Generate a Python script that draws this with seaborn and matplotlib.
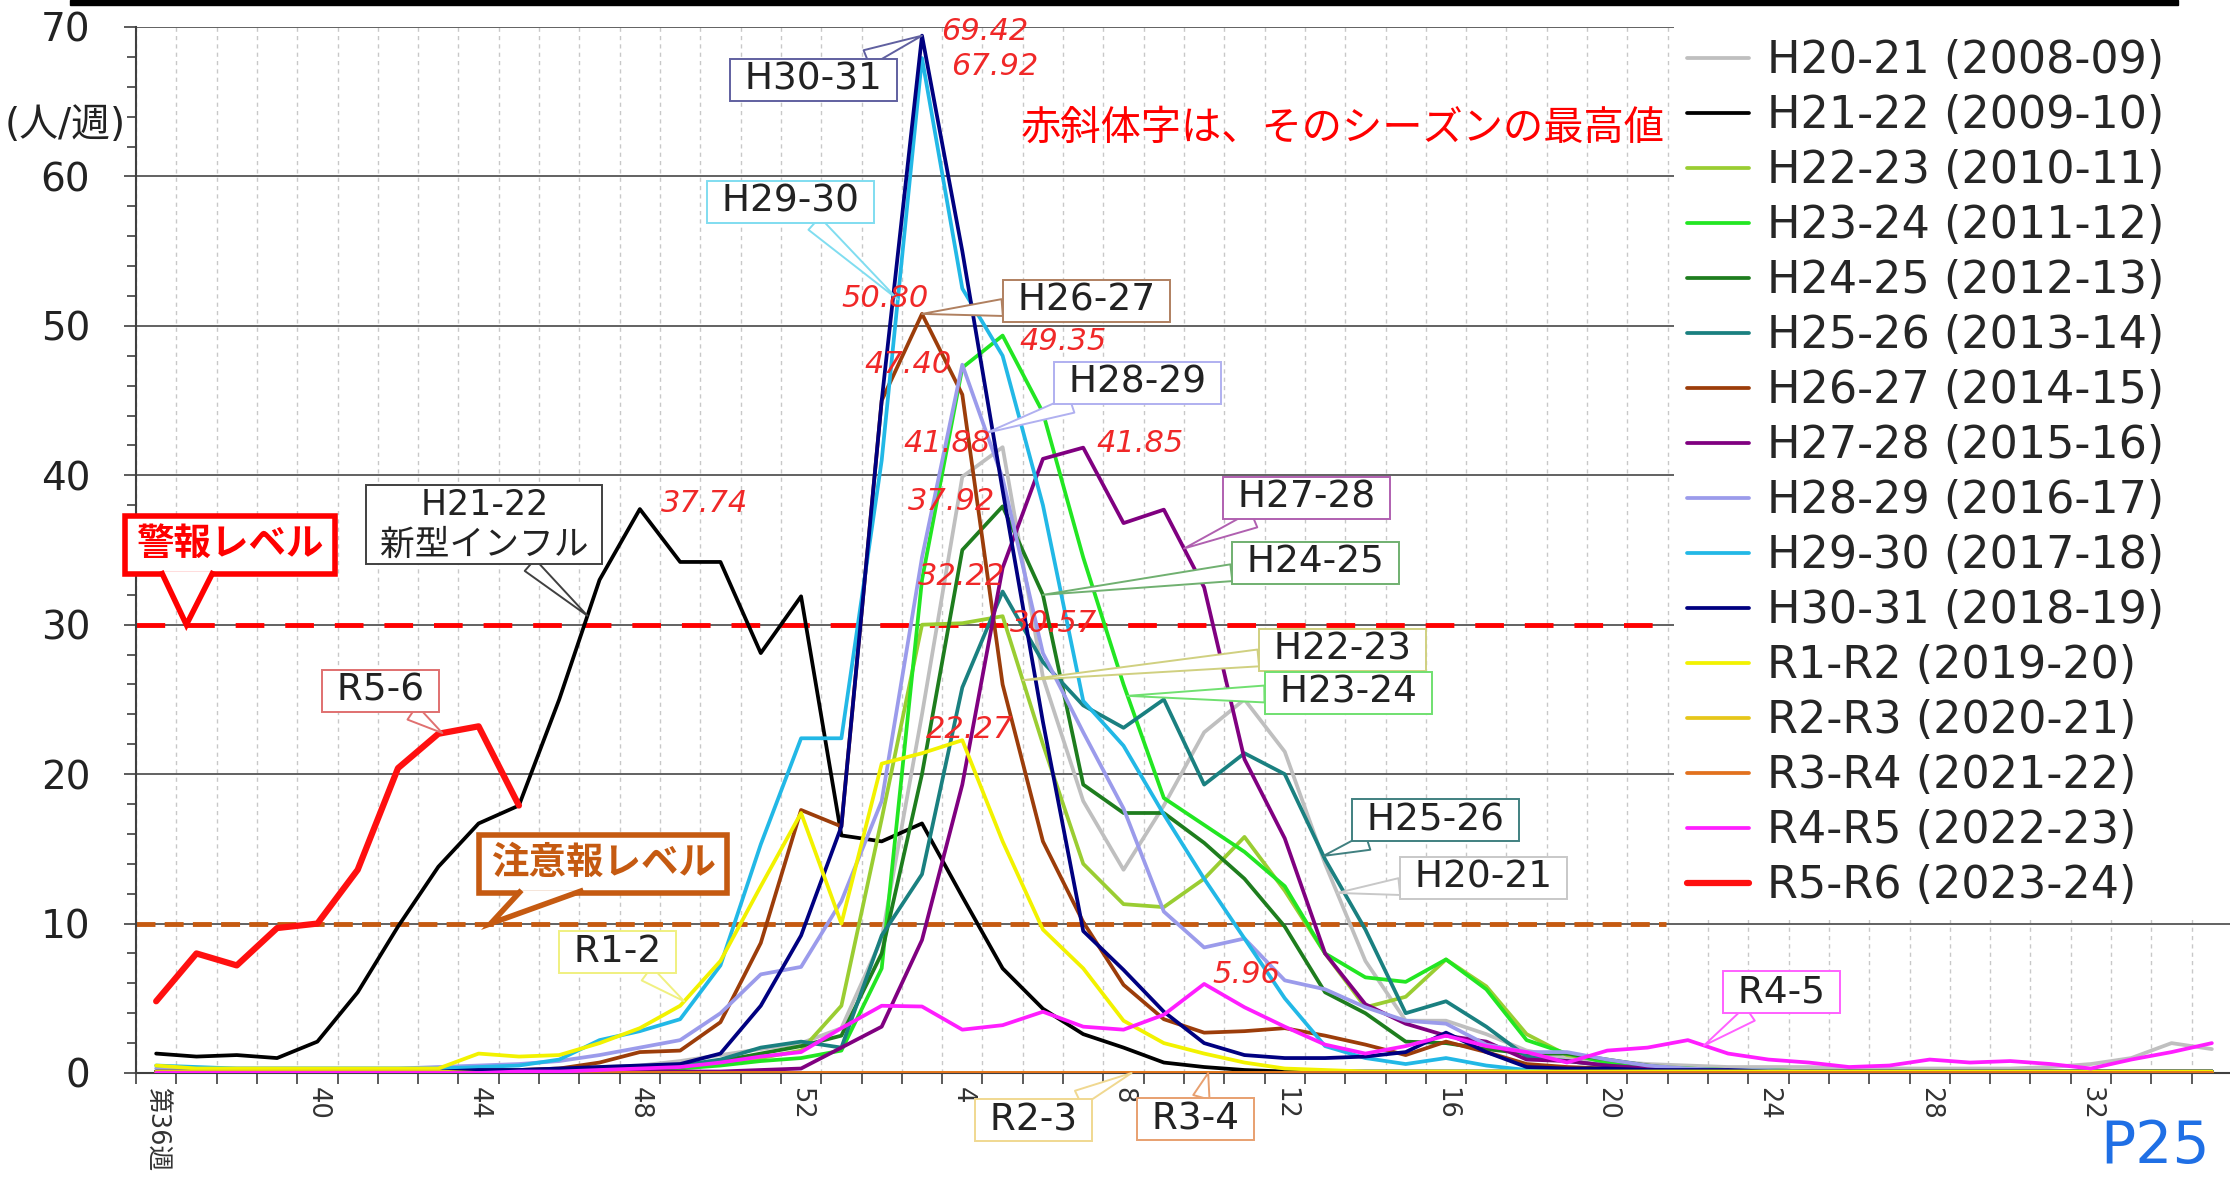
import matplotlib
matplotlib.use("Agg")
import matplotlib.pyplot as plt
from matplotlib.ticker import MultipleLocator
from matplotlib.patches import Rectangle, Polygon
from matplotlib.transforms import IdentityTransform
import numpy as np
import pandas as pd
import seaborn as sns

sns.set_style("white")
plt.rcParams['font.family'] = ['DejaVu Sans', 'Noto Sans CJK JP']
plt.rcParams['axes.unicode_minus'] = False

# season weeks: 36..52 then 1..35
weeks = list(range(36, 53)) + list(range(1, 36))
tick_weeks = [36, 40, 44, 48, 52, 4, 8, 12, 16, 20, 24, 28, 32]
tick_labels = ['第36週', '40', '44', '48', '52', '4', '8', '12', '16', '20', '24', '28', '32']

seasons = ['H20-21', 'H21-22', 'H22-23', 'H23-24', 'H24-25', 'H25-26', 'H26-27', 'H27-28',
           'H28-29', 'H29-30', 'H30-31', 'R1-R2', 'R2-R3', 'R3-R4', 'R4-R5', 'R5-R6']
years = ['2008-09', '2009-10', '2010-11', '2011-12', '2012-13', '2013-14', '2014-15', '2015-16',
         '2016-17', '2017-18', '2018-19', '2019-20', '2020-21', '2021-22', '2022-23', '2023-24']
colors = ['#BFBFBF', '#000000', '#9ACD32', '#22E622', '#1E7D1E', '#1A8080', '#9C3D0A', '#800080',
          '#9B9BEB', '#22B8E6', '#000080', '#F2F200', '#E6C619', '#E2711D', '#FF1EFF', '#FF1010']

# wk36-47 / wk48-52 / wk1-12 / wk13-24 / wk25-35
h20_21 = [0.1, 0.1, 0.1, 0.1, 0.1, 0.1, 0.1, 0.2, 0.2, 0.2, 0.3, 0.4,
          0.5, 0.8, 1.2, 1.6, 2.0,
          3.0, 9.0, 24.0, 39.9, 41.88, 26.5, 18.2, 13.6, 17.9, 22.8, 25.0, 21.5,
          14.0, 7.5, 3.5, 3.5, 2.6, 1.5, 1.0, 0.8, 0.6, 0.5, 0.4, 0.4,
          0.4, 0.3, 0.3, 0.3, 0.3, 0.3, 0.4, 0.6, 1.0, 2.0, 1.6]
h21_22 = [1.3, 1.1, 1.2, 1.0, 2.1, 5.4, 9.8, 13.8, 16.7, 17.9, 25.0, 33.0,
          37.74, 34.2, 34.2, 28.1, 31.9,
          15.9, 15.5, 16.7, 11.8, 7.0, 4.3, 2.6, 1.7, 0.7, 0.4, 0.2, 0.1,
          0.1, 0.1, 0.1, 0.1, 0.1, 0.1, 0.1, 0.1, 0.1, 0.1, 0.1, 0.1,
          0.1, 0.1, 0.1, 0.1, 0.1, 0.1, 0.1, 0.1, 0.1, 0.1, 0.1]
h22_23 = [0.1, 0.1, 0.1, 0.1, 0.1, 0.1, 0.1, 0.1, 0.1, 0.1, 0.1, 0.2,
          0.3, 0.4, 0.6, 1.0, 1.5,
          4.5, 17.0, 30.0, 30.1, 30.57, 22.0, 14.0, 11.3, 11.1, 13.0, 15.8, 12.2,
          8.0, 4.4, 5.1, 7.6, 5.8, 2.6, 1.2, 0.8, 0.5, 0.3, 0.2, 0.2,
          0.1, 0.1, 0.1, 0.1, 0.1, 0.1, 0.1, 0.1, 0.1, 0.1, 0.1]
h23_24 = [0.1, 0.1, 0.1, 0.1, 0.1, 0.1, 0.1, 0.1, 0.1, 0.1, 0.1, 0.1,
          0.2, 0.3, 0.5, 0.8, 1.0,
          1.5, 7.0, 33.0, 47.2, 49.35, 44.2, 34.5, 26.0, 18.4, 16.6, 14.8, 12.5,
          8.0, 6.4, 6.1, 7.6, 5.6, 2.2, 1.3, 0.7, 0.4, 0.3, 0.2, 0.2,
          0.1, 0.1, 0.1, 0.1, 0.1, 0.1, 0.1, 0.1, 0.1, 0.1, 0.1]
h24_25 = [0.1, 0.1, 0.1, 0.1, 0.1, 0.1, 0.1, 0.1, 0.1, 0.1, 0.1, 0.1,
          0.2, 0.4, 0.8, 1.3, 1.8,
          2.5, 8.0, 20.0, 35.0, 37.92, 32.0, 19.3, 17.4, 17.4, 15.4, 13.0, 9.8,
          5.4, 4.0, 2.1, 2.0, 1.6, 1.3, 1.3, 0.9, 0.5, 0.2, 0.1, 0.1,
          0.1, 0.1, 0.1, 0.1, 0.1, 0.1, 0.1, 0.1, 0.1, 0.1, 0.1]
h25_26 = [0.1, 0.1, 0.1, 0.1, 0.1, 0.1, 0.1, 0.1, 0.1, 0.1, 0.1, 0.1,
          0.3, 0.5, 0.9, 1.7, 2.1,
          1.7, 9.2, 13.3, 25.8, 32.22, 27.5, 24.6, 23.1, 25.0, 19.3, 21.4, 20.0,
          14.3, 9.6, 4.0, 4.8, 3.1, 1.1, 0.8, 0.5, 0.3, 0.2, 0.2, 0.1,
          0.1, 0.1, 0.1, 0.1, 0.1, 0.1, 0.1, 0.1, 0.1, 0.1, 0.1]
h26_27 = [0.1, 0.1, 0.1, 0.1, 0.1, 0.1, 0.1, 0.1, 0.2, 0.2, 0.3, 0.7,
          1.4, 1.5, 3.4, 8.7, 17.6,
          16.5, 45.0, 50.80, 45.4, 26.0, 15.5, 10.1, 5.9, 3.6, 2.7, 2.8, 3.0,
          2.5, 1.9, 1.2, 2.1, 1.4, 0.6, 0.4, 0.3, 0.2, 0.2, 0.1, 0.1,
          0.1, 0.1, 0.1, 0.1, 0.1, 0.1, 0.1, 0.1, 0.1, 0.1, 0.1]
h27_28 = [0.1, 0.1, 0.1, 0.1, 0.1, 0.1, 0.1, 0.1, 0.1, 0.1, 0.1, 0.1,
          0.1, 0.1, 0.1, 0.2, 0.3,
          1.7, 3.1, 8.9, 19.3, 33.8, 41.1, 41.85, 36.8, 37.7, 32.5, 21.0, 15.7,
          8.0, 4.6, 3.3, 2.5, 2.1, 0.9, 0.8, 0.5, 0.3, 0.2, 0.1, 0.1,
          0.1, 0.1, 0.1, 0.1, 0.1, 0.1, 0.1, 0.1, 0.1, 0.1, 0.1]
h28_29 = [0.3, 0.3, 0.3, 0.3, 0.3, 0.3, 0.3, 0.4, 0.5, 0.6, 0.8, 1.2,
          1.7, 2.2, 4.0, 6.6, 7.1,
          11.5, 18.2, 34.5, 47.40, 39.8, 28.1, 22.8, 17.7, 10.8, 8.4, 9.0, 6.2,
          5.6, 4.4, 3.5, 3.3, 1.9, 1.4, 1.4, 0.9, 0.5, 0.3, 0.2, 0.2,
          0.1, 0.1, 0.1, 0.1, 0.1, 0.1, 0.1, 0.1, 0.1, 0.1, 0.1]
h29_30 = [0.5, 0.4, 0.3, 0.3, 0.3, 0.3, 0.3, 0.3, 0.4, 0.5, 0.9, 2.2,
          2.8, 3.6, 7.2, 15.3, 22.4,
          22.4, 41.0, 67.92, 52.5, 48.0, 38.0, 24.9, 21.9, 17.3, 13.0, 9.0, 5.0,
          1.8, 1.0, 0.6, 1.0, 0.5, 0.2, 0.1, 0.1, 0.1, 0.1, 0.1, 0.1,
          0.1, 0.1, 0.1, 0.1, 0.1, 0.1, 0.1, 0.1, 0.1, 0.1, 0.1]
h30_31 = [0.1, 0.1, 0.1, 0.1, 0.1, 0.1, 0.1, 0.1, 0.2, 0.2, 0.3, 0.4,
          0.5, 0.6, 1.3, 4.5, 9.2,
          16.5, 45.0, 69.42, 55.0, 39.0, 23.5, 9.5, 6.9, 4.1, 2.0, 1.2, 1.0,
          1.0, 1.1, 1.4, 2.7, 1.4, 0.4, 0.3, 0.3, 0.2, 0.2, 0.2, 0.1,
          0.1, 0.1, 0.1, 0.1, 0.1, 0.1, 0.1, 0.1, 0.1, 0.1, 0.1]
r1_r2 = [0.5, 0.3, 0.3, 0.3, 0.3, 0.3, 0.3, 0.3, 1.3, 1.1, 1.2, 2.0,
         3.0, 4.5, 7.5, 12.5, 17.4,
         10.0, 20.7, 21.4, 22.27, 15.5, 9.6, 7.0, 3.5, 2.0, 1.3, 0.7, 0.3,
         0.2, 0.1, 0.1, 0.1, 0.1, 0.1, 0.1, 0.1, 0.1, 0.1, 0.1, 0.1,
         0.1, 0.1, 0.1, 0.1, 0.1, 0.1, 0.1, 0.1, 0.1, 0.1, 0.1]
r2_r3 = [0.1, 0.1, 0.1, 0.1, 0.1, 0.1, 0.1, 0.1, 0.0, 0.0, 0.0, 0.0,
         0.0, 0.0, 0.0, 0.0, 0.0,
         0.0, 0.0, 0.0, 0.0, 0.0, 0.0, 0.0, 0.0, 0.0, 0.0, 0.0, 0.0,
         0.0, 0.0, 0.0, 0.0, 0.0, 0.0, 0.0, 0.0, 0.0, 0.0, 0.0, 0.0,
         0.0, 0.0, 0.0, 0.0, 0.0, 0.0, 0.0, 0.0, 0.0, 0.0, 0.0]
r3_r4 = [0.0, 0.0, 0.0, 0.0, 0.0, 0.0, 0.0, 0.0, 0.0, 0.0, 0.0, 0.0,
         0.0, 0.0, 0.0, 0.0, 0.0,
         0.0, 0.0, 0.0, 0.0, 0.0, 0.0, 0.0, 0.0, 0.0, 0.0, 0.0, 0.0,
         0.0, 0.0, 0.0, 0.0, 0.0, 0.0, 0.0, 0.0, 0.0, 0.0, 0.0, 0.0,
         0.0, 0.0, 0.0, 0.0, 0.0, 0.0, 0.0, 0.0, 0.0, 0.0, 0.0]
r4_r5 = [0.0, 0.0, 0.0, 0.0, 0.0, 0.0, 0.0, 0.0, 0.0, 0.1, 0.1, 0.2,
         0.3, 0.4, 0.7, 1.1, 1.4,
         3.0, 4.5, 4.45, 2.9, 3.2, 4.1, 3.1, 2.9, 3.9, 5.96, 4.4, 3.1,
         1.9, 1.3, 1.8, 2.5, 1.8, 1.4, 0.7, 1.5, 1.7, 2.2, 1.3, 0.9,
         0.7, 0.4, 0.5, 0.9, 0.7, 0.8, 0.6, 0.3, 0.9, 1.4, 2.0]
r5_r6 = [4.8, 8.0, 7.2, 9.7, 10.0, 13.6, 20.4, 22.7, 23.2, 17.9] + [np.nan] * 42

series = [h20_21, h21_22, h22_23, h23_24, h24_25, h25_26, h26_27, h27_28,
          h28_29, h29_30, h30_31, r1_r2, r2_r3, r3_r4, r4_r5, r5_r6]
values = dict(zip(seasons, series))

rows = []
for s, vals in zip(seasons, series):
    for i, v in enumerate(vals):
        rows.append((i, s, v))
df = pd.DataFrame(rows, columns=['idx', 'season', 'value'])

W, H = 2230, 1178
fig = plt.figure(figsize=(W / 100, H / 100), dpi=100)
ax = fig.add_axes([136 / W, 1 - 1073 / H, (2232 - 136) / W, (1073 - 27) / H])

for s, y, c in zip(seasons, years, colors):
    d = df[df.season == s].dropna()
    lw = 4.5 if s == 'R5-R6' else 2.7
    sns.lineplot(data=d, x='idx', y='value', color=c, lw=lw, label=f'{s} ({y})',
                 errorbar=None, ax=ax, zorder=3)

ax.set_xlim(-0.5, 51.5)
ax.set_ylim(0, 70)
ax.set_xlabel('')
ax.set_ylabel('')

# ticks at week boundaries, labels at week centres
ax.set_xticks(np.arange(-0.5, 52, 1))
ax.set_xticklabels([])
ax.set_xticks([weeks.index(w) for w in tick_weeks], minor=True)
ax.set_xticklabels(tick_labels, minor=True, rotation=270, ha='center', va='top',
                   fontsize=18.5, color='#333333')
ax.tick_params(axis='x', which='major', bottom=True, length=8, width=1.2,
               color='#404040', direction='out')
ax.tick_params(axis='x', which='minor', bottom=True, length=0, pad=10)
ax.set_yticks(range(0, 71, 10))
ax.yaxis.set_minor_locator(MultipleLocator(2))
ax.tick_params(axis='y', which='major', left=True, length=9, width=1.2, color='#404040',
               labelsize=28, labelcolor='#222222', pad=24)
ax.tick_params(axis='y', which='minor', left=True, length=6.5, width=1.2, color='#404040')
ax.grid(axis='y', which='major', color='#555555', lw=1.3, ls='-')
ax.grid(axis='x', which='major', color='#C8C8C8', lw=1, ls=(0, (3, 3)))
ax.set_axisbelow(True)
for sp in ['top', 'right']:
    ax.spines[sp].set_visible(False)
for sp in ['left', 'bottom']:
    ax.spines[sp].set_color('#404040')
    ax.spines[sp].set_linewidth(1.5)

# alert levels
ax.axhline(30, xmax=0.73, color='#FF0000', lw=3.5, dashes=(5.9, 4.3), zorder=2.5)
ax.axhline(10, xmax=0.73, color='#C55A11', lw=3.5, dashes=(3.9, 1.9), zorder=2.5)

leg = ax.legend(loc='upper left', bbox_to_anchor=(0.734, 0.0, 0.266, 1.0), mode='expand',
                borderaxespad=0, fontsize=32, handlelength=1.4, handletextpad=0.4,
                labelspacing=0.27, borderpad=0.28, frameon=True, fancybox=False,
                framealpha=1, facecolor='white', edgecolor='none')


def callout(text, xy, xytext, ec, size=27, lw=1.4, tail=0.45):
    ax.annotate(text, xy=xy, xytext=xytext, textcoords='data', ha='center', va='center',
                fontsize=size, color='#222222', annotation_clip=False,
                bbox=dict(boxstyle='square,pad=0.08', fc='white', ec=ec, lw=lw),
                arrowprops=dict(arrowstyle=f'wedge,tail_width={tail}', fc='white', ec=ec,
                                lw=lw, shrinkA=0, shrinkB=0),
                zorder=6)


# season callouts: label, season, target index, box centre, edge colour
season_callouts = [
    ('H30-31', 'H30-31', 19.0, (16.30, 66.47), '#6060A0'),
    ('H29-30', 'H29-30', 18.4, (15.73, 58.30), '#80DDF0'),
    ('H26-27', 'H26-27', 19.0, (23.08, 51.67), '#B08060'),
    ('H28-29', 'H28-29', 20.6, (24.34, 46.18), '#B0B0F0'),
    ('H27-28', 'H27-28', 25.5, (28.54, 38.49), '#B060B0'),
    ('H24-25', 'H24-25', 22.0, (28.76, 34.14), '#70B070'),
    ('H22-23', 'H22-23', 21.5, (29.43, 28.31), '#D0D080'),
    ('H23-24', 'H23-24', 24.1, (29.58, 25.44), '#70E070'),
    ('H25-26', 'H25-26', 28.96, (31.74, 16.93), '#408080'),
    ('H20-21', 'H20-21', 29.3, (32.93, 13.05), '#C8C8C8'),
    ('R4-5', 'R4-R5', 38.4, (40.32, 5.42), '#FF60FF'),
    ('R3-4', 'R3-R4', 26.1, (25.78, -3.08), '#E8A070'),
    ('R2-3', 'R2-R3', 24.2, (21.76, -3.15), '#F0D890'),
    ('R1-2', 'R1-R2', 13.1, (11.44, 8.10), '#F0F080'),
    ('R5-6', 'R5-R6', 7.1, (5.56, 25.57), '#E07070'),
    ('H21-22\n新型インフル', 'H21-22', 10.7, (8.14, 36.68), '#404040'),
]
for text, s, t, box, ec in season_callouts:
    v = np.array(values[s], dtype=float)
    ok = ~np.isnan(v)
    ty = np.interp(t, np.arange(52)[ok], v[ok])
    lines = text.split('\n')
    padded = '\n'.join(f' {ln} ' for ln in lines)
    callout(padded, (t, ty), box, ec, size=25 if len(lines) > 1 else 27)

# alert level callouts: text box plus a triangular tail drawn after layout
level_callouts = [
    ('警報レベル', (1.84, 35.34), (0.75, 30), '#FF0000'),
    ('注意報レベル', (11.09, 13.99), (8.3, 10), '#C55A11'),
]
level_texts = []
for text, box, tip, col in level_callouts:
    t = ax.text(box[0], box[1], text, ha='center', va='center', fontsize=27, color=col,
                fontweight='bold', zorder=6,
                bbox=dict(boxstyle='square,pad=0.3', fc='white', ec=col, lw=4))
    level_texts.append((t, tip, col))

# season maximum labels (red italic)
peak_offsets = {
    'H30-31': (63, 4), 'H29-30': (73, -8), 'H26-27': (-37, 15), 'H23-24': (60, -6),
    'H28-29': (-54, 0), 'H20-21': (-56, 4), 'H27-28': (57, 4), 'H21-22': (65, 6),
    'H24-25': (-51, 5), 'H25-26': (-41, 15), 'H22-23': (51, -7), 'R1-R2': (7, 11),
    'R4-R5': (42, 9),
}
for s, (dx, dy) in peak_offsets.items():
    v = np.array(values[s], dtype=float)
    i = int(np.nanargmax(v))
    ax.annotate(f'{v[i]:.2f}', xy=(i, v[i]), xytext=(dx, dy), textcoords='offset pixels',
                ha='center', va='center', color='#F02828', fontsize=22, style='italic',
                zorder=7)

ax.text(21.44, 63.25, '赤斜体字は、そのシーズンの最高値', color='#FF0000', fontsize=29,
        style='italic', ha='left', va='center', zorder=7)

fig.text(5 / W, 1 - 125 / H, '(人/週)', fontsize=28, ha='left', va='center', color='#222222')
fig.text(2100 / W, 3 / H, 'P25', fontsize=42, color='#1F6FE5', ha='left', va='bottom')
fig.add_artist(Rectangle((70 / W, 1 - 5 / H), (2178 - 70) / W, 5 / H,
                         transform=fig.transFigure, color='black'))

# tails of the alert callouts (need the rendered box size)
fig.canvas.draw()
renderer = fig.canvas.get_renderer()
for t, tip, col in level_texts:
    bb = t.get_bbox_patch().get_window_extent(renderer)
    bx0 = bb.x0 + 0.17 * bb.width
    bx1 = bb.x0 + 0.42 * bb.width
    by = bb.y0 + 3
    tx, ty = ax.transData.transform(tip)
    tail = Polygon([(bx0, by), (tx, ty), (bx1, by)], closed=False, fc='white', ec=col,
                   lw=4, joinstyle='miter', zorder=6.5, transform=IdentityTransform())
    ax.add_patch(tail)

fig.savefig('out.png', dpi=100)
